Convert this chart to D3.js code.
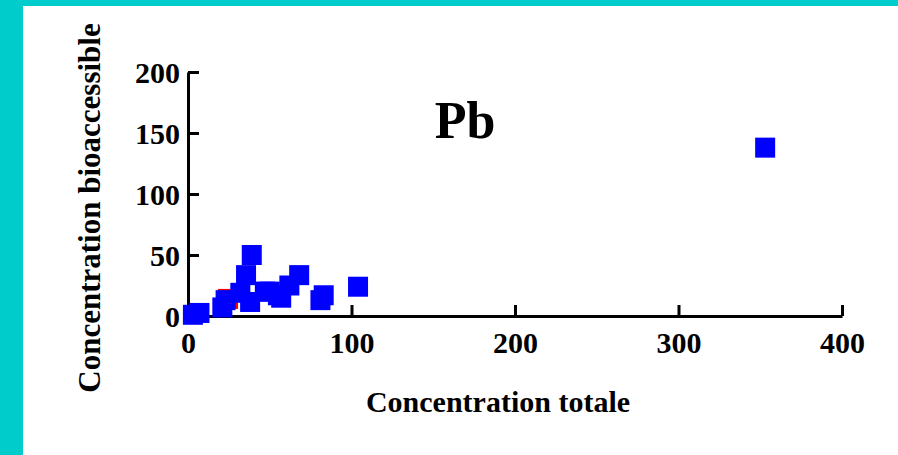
<!DOCTYPE html>
<html><head><meta charset="utf-8">
<script src="https://cdn.jsdelivr.net/npm/d3@7"></script>
<style>html,body{margin:0;padding:0;background:#fff;}svg{display:block;}</style>
</head><body>
<svg id="c" width="898" height="455"></svg>
<script>
const xTicks = [0, 100, 200, 300, 400];
const yTicks = [0, 50, 100, 150, 200];
const blueX = [3, 7, 21, 23, 32, 35.5, 39, 38, 47, 50, 55, 57, 62, 68, 81, 83, 104, 353];
const blueY = [1, 2.5, 7, 13, 19, 33.5, 50, 11.5, 20, 20, 17, 15, 25, 33.5, 13, 17, 24, 138];
const redX = [24.5];
const redY = [14];
const title = "Pb";
const xTitle = "Concentration totale";
const yTitle = "Concentration bioaccessible";

const svg = d3.select("#c");
const font = "'Liberation Serif','Times New Roman',serif";
// frame
svg.append("rect").attr("x",0).attr("y",0).attr("width",898).attr("height",455).attr("fill","#00cccc");
svg.append("rect").attr("x",23).attr("y",6).attr("width",875).attr("height",449).attr("fill","#fff");

const x = d3.scaleLinear().domain([0,400]).range([188,842]);
const y = d3.scaleLinear().domain([0,200]).range([316,72]);

const g = svg.append("g");
const xAxis = d3.axisBottom(x).tickValues(xTicks).tickSizeInner(-11).tickSizeOuter(0).tickPadding(16);
const yAxis = d3.axisLeft(y).tickValues(yTicks).tickSizeInner(-11).tickSizeOuter(0).tickPadding(8);

const gx = g.append("g").attr("transform","translate(0,316)").call(xAxis);
const gy = g.append("g").attr("transform","translate(188,0)").call(yAxis);
[gx,gy].forEach(a=>{
  a.select(".domain").attr("stroke","#000").attr("stroke-width",3);
  a.selectAll(".tick line").attr("stroke","#000").attr("stroke-width",3);
  a.selectAll(".tick text").attr("fill","#000").style("font-family",font).style("font-weight","bold").style("font-size","30px");
});
gy.selectAll(".tick text").attr("dy","0.36em");

const pts = blueX.map((v,i)=>({x:v,y:blueY[i]}));
const rpts = redX.map((v,i)=>({x:v,y:redY[i]}));
const s = 20;
g.selectAll("rect.r").data(rpts).enter().append("rect").attr("class","r")
  .attr("x",d=>x(d.x)-s/2).attr("y",d=>y(d.y)-s/2).attr("width",s).attr("height",s).attr("fill","#ff0000");
g.selectAll("rect.b").data(pts).enter().append("rect").attr("class","b")
  .attr("x",d=>x(d.x)-s/2).attr("y",d=>y(d.y)-s/2).attr("width",s).attr("height",s).attr("fill","#0000ff");

svg.append("text").attr("x",465).attr("y",138).attr("text-anchor","middle")
  .style("font-family",font).style("font-weight","bold").style("font-size","52px").text(title);
svg.append("text").attr("x",498).attr("y",412).attr("text-anchor","middle")
  .style("font-family",font).style("font-weight","bold").style("font-size","30px").text(xTitle);
svg.append("text").attr("transform","translate(100,208) rotate(-90)").attr("text-anchor","middle")
  .style("font-family",font).style("font-weight","bold").style("font-size","31px").text(yTitle);
</script>
</body></html>
